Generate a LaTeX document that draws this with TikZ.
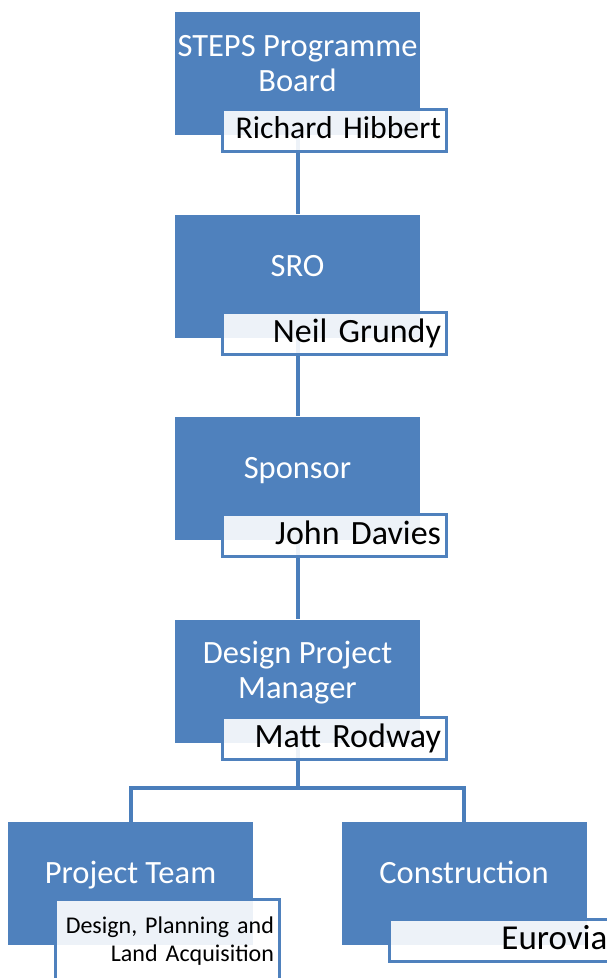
\documentclass[tikz,border=0pt]{standalone}
\usepackage{xcolor}
\usepackage{fontspec}
\setmainfont{Carlito}
\usepackage{tikz}
\usetikzlibrary{shapes,arrows,positioning}

\definecolor{stepsblue}{RGB}{79,129,189}
\definecolor{linkblue}{RGB}{74,126,187}

\tikzset{
    role/.style={
        rectangle,
        fill=stepsblue,
        minimum width=245pt,
        minimum height=123pt,
        inner sep=0pt
    },
    roletext/.style={
        text=white,
        align=center,
        inner sep=0pt,
        anchor=base,
        font=\fontsize{32.5pt}{35pt}\selectfont
    },
    holder/.style={
        rectangle,
        draw=stepsblue,
        line width=3pt,
        fill=white,
        fill opacity=0.9,
        text opacity=1,
        minimum width=224pt,
        inner xsep=5.5pt,
        inner ysep=0pt,
        text width=213pt,
        align=right
    },
    nameline/.style={
        holder,
        minimum height=42pt,
        text height=24pt,
        text depth=6pt,
        font=\fontsize{34pt}{38pt}\selectfont
    },
    link/.style={
        draw=linkblue,
        line width=4pt
    }
}

\begin{document}
\begin{tikzpicture}[x=1pt,y=-1pt]
    \useasboundingbox (0,0) rectangle (606,978);

    % role boxes
    \node[role] (board) at (297.5,73.5) {};
    \node[role] (sro) at (297.5,276) {};
    \node[role] (sponsor) at (297.5,478) {};
    \node[role] (dpm) at (297.5,681) {};
    \node[role] (team) at (130.5,883.5) {};
    \node[role] (constr) at (464,883.5) {};

    % reporting lines
    \draw[link] (board.south) -- (sro.north);
    \draw[link] (sro.south) -- (sponsor.north);
    \draw[link] (sponsor.south) -- (dpm.north);
    \coordinate (fork) at (297.5,788);
    \draw[link] (dpm.south) -- (fork);
    \draw[link] (team.north) |- (fork) -| (constr.north);

    % role titles (base = last line)
    \node[roletext] (board-txt) at ([yshift=-17.5pt]board.center) {STEPS Programme\\Board};
    \node[roletext] (sro-txt) at (sro.center) {SRO};
    \node[roletext] (sponsor-txt) at (sponsor.center) {Sponsor};
    \node[roletext] (dpm-txt) at ([yshift=-17.5pt]dpm.center) {Design Project\\Manager};
    \node[roletext] (team-txt) at (team.center) {Project Team};
    \node[roletext] (constr-txt) at (constr.center) {Construction};

    % who holds each role
    \node[
        nameline,
        text depth=8pt,
        font=\fontsize{31.7pt}{36pt}\selectfont
    ] (board-who) at ([shift={(37,57)}]board.center) {Richard Hibbert};
    \node[nameline] (sro-who) at ([shift={(37,57)}]sro.center) {Neil Grundy};
    \node[nameline] (sponsor-who) at ([shift={(37,57)}]sponsor.center) {John Davies};
    \node[nameline] (dpm-who) at ([shift={(37,57)}]dpm.center) {Matt Rodway};
    \node[
        holder,
        minimum height=84pt,
        font=\fontsize{24pt}{28pt}\selectfont
    ] (team-who) at ([shift={(37,58)}]team.center) {Design, Planning and\\Land Acquisition};
    \node[
        nameline,
        font=\fontsize{35pt}{38pt}\selectfont
    ] (constr-who) at ([shift={(37,57)}]constr.center) {Eurovia};
\end{tikzpicture}
\end{document}
